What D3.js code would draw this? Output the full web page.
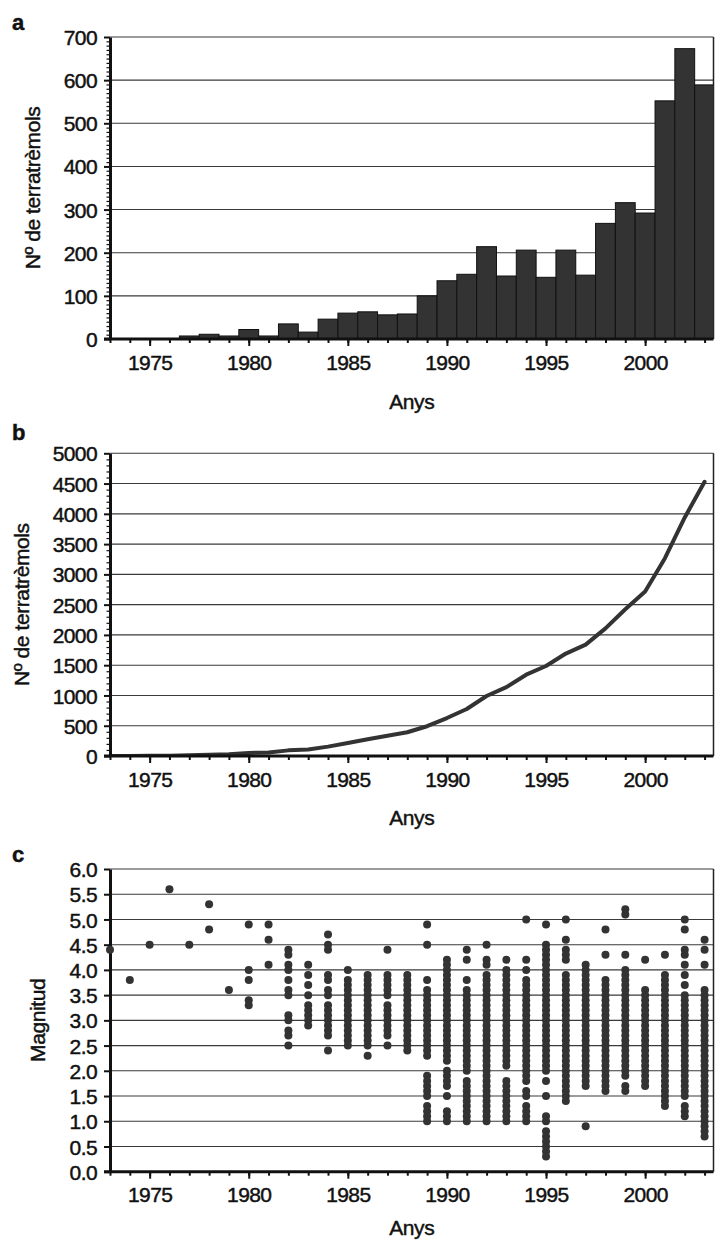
<!DOCTYPE html>
<html>
<head>
<meta charset="utf-8">
<script src="https://cdn.jsdelivr.net/npm/d3@7"></script>
<style>
  body { margin: 0; background: #fff; }
  svg text { font-family: "Liberation Sans", Arial, Helvetica, sans-serif; fill: #111; stroke: #111; stroke-width: 0.45px; }
</style>
</head>
<body>
<svg id="chart" width="715" height="1242"></svg>
<script>
// ---- Data ----------------------------------------------------------------
const years = [1973, 1974, 1975, 1976, 1977, 1978, 1979, 1980, 1981, 1982,
               1983, 1984, 1985, 1986, 1987, 1988, 1989, 1990, 1991, 1992,
               1993, 1994, 1995, 1996, 1997, 1998, 1999, 2000, 2001, 2002, 2003];

// Earthquakes per year
const annualCounts = [1, 1, 1, 1, 7, 11, 7, 22, 7, 35,
                      16, 46, 60, 63, 56, 58, 100, 135, 150, 214,
                      146, 206, 143, 206, 148, 268, 316, 292, 552, 673, 589];

// Accumulated number of earthquakes
const cumulativeCounts = [1, 2, 3, 4, 11, 22, 29, 51, 58, 93,
                          109, 155, 215, 278, 334, 392, 492, 627, 777, 991,
                          1137, 1343, 1486, 1692, 1840, 2108, 2424, 2716, 3268, 3941, 4530];

// Magnitudes recorded each year (one entry per distinct value)
const magnitudes = [
  [4.4],
  [3.8],
  [4.5],
  [5.6],
  [4.5],
  [5.3, 4.8],
  [3.6],
  [4.9, 4.0, 3.8, 3.4, 3.3],
  [4.9, 4.6, 4.1],
  [4.4, 4.3, 4.1, 4.0, 3.8, 3.6, 3.5, 3.1, 3.0, 2.8, 2.7, 2.5],
  [4.1, 3.9, 3.7, 3.5, 3.3, 3.2, 3.1, 3.0, 2.9],
  [4.7, 4.5, 4.4, 3.9, 3.8, 3.6, 3.5, 3.3, 3.2, 3.1, 3.0, 2.9, 2.8, 2.7, 2.4],
  [4.0, 3.8, 3.7, 3.6, 3.5, 3.4, 3.3, 3.2, 3.1, 3.0, 2.9, 2.8, 2.7, 2.6, 2.5],
  [3.9, 3.8, 3.7, 3.6, 3.5, 3.4, 3.3, 3.2, 3.1, 3.0, 2.9, 2.8, 2.7, 2.6, 2.5, 2.3],
  [4.4, 3.9, 3.8, 3.7, 3.6, 3.5, 3.3, 3.2, 3.1, 3.0, 2.9, 2.8, 2.7, 2.5],
  [3.9, 3.8, 3.7, 3.6, 3.5, 3.4, 3.3, 3.2, 3.1, 3.0, 2.9, 2.8, 2.7, 2.6, 2.5, 2.4],
  [4.9, 4.5, 3.8, 3.6, 3.5, 3.4, 3.3, 3.2, 3.1, 3.0, 2.9, 2.8, 2.7, 2.6, 2.5, 2.4, 2.3,
   1.9, 1.8, 1.7, 1.6, 1.5, 1.3, 1.2, 1.1, 1.0],
  [4.2, 4.1, 4.0, 3.9, 3.8, 3.7, 3.6, 3.5, 3.4, 3.3, 3.2, 3.1, 3.0, 2.9, 2.8, 2.7, 2.6,
   2.5, 2.4, 2.3, 2.2, 2.0, 1.9, 1.8, 1.7, 1.5, 1.2, 1.1, 1.0],
  [4.4, 4.2, 3.8, 3.6, 3.5, 3.4, 3.3, 3.2, 3.1, 3.0, 2.9, 2.8, 2.7, 2.6, 2.5, 2.4, 2.3,
   2.2, 2.1, 2.0, 1.8, 1.7, 1.6, 1.5, 1.4, 1.3, 1.2, 1.1, 1.0],
  [4.5, 4.2, 4.1, 3.9, 3.8, 3.7, 3.6, 3.5, 3.4, 3.3, 3.2, 3.1, 3.0, 2.9, 2.8, 2.7, 2.6,
   2.5, 2.4, 2.3, 2.2, 2.1, 2.0, 1.9, 1.8, 1.7, 1.6, 1.5, 1.4, 1.3, 1.2, 1.1, 1.0],
  [4.2, 4.0, 3.9, 3.8, 3.7, 3.6, 3.5, 3.4, 3.3, 3.2, 3.1, 3.0, 2.9, 2.8, 2.7, 2.6, 2.5,
   2.4, 2.3, 2.2, 2.1, 1.8, 1.7, 1.6, 1.5, 1.4, 1.3, 1.2, 1.1, 1.0],
  [5.0, 4.2, 4.0, 3.8, 3.7, 3.6, 3.5, 3.4, 3.3, 3.2, 3.1, 3.0, 2.9, 2.8, 2.7, 2.6, 2.5,
   2.4, 2.3, 2.2, 2.1, 2.0, 1.9, 1.8, 1.6, 1.5, 1.3, 1.2, 1.1, 1.0],
  [4.9, 4.5, 4.4, 4.3, 4.2, 4.1, 4.0, 3.9, 3.8, 3.7, 3.6, 3.5, 3.4, 3.3, 3.2, 3.1, 3.0,
   2.9, 2.8, 2.7, 2.6, 2.5, 2.4, 2.3, 2.2, 2.1, 2.0, 1.8, 1.5, 1.1, 1.0, 0.8, 0.7, 0.6,
   0.5, 0.4, 0.3],
  [5.0, 4.6, 4.4, 4.3, 4.2, 3.9, 3.8, 3.7, 3.6, 3.5, 3.4, 3.3, 3.2, 3.1, 3.0, 2.9, 2.8,
   2.7, 2.6, 2.5, 2.4, 2.3, 2.2, 2.1, 2.0, 1.9, 1.8, 1.7, 1.6, 1.5, 1.4],
  [4.1, 4.0, 3.9, 3.8, 3.7, 3.6, 3.5, 3.4, 3.3, 3.2, 3.1, 3.0, 2.9, 2.8, 2.7, 2.6, 2.5,
   2.4, 2.3, 2.2, 2.1, 2.0, 1.9, 1.8, 1.7, 0.9],
  [4.8, 4.3, 3.8, 3.7, 3.6, 3.5, 3.4, 3.3, 3.2, 3.1, 3.0, 2.9, 2.8, 2.7, 2.6, 2.5, 2.4,
   2.3, 2.2, 2.1, 2.0, 1.9, 1.8, 1.7, 1.6],
  [5.2, 5.1, 4.3, 4.0, 3.9, 3.8, 3.7, 3.6, 3.5, 3.4, 3.3, 3.2, 3.1, 3.0, 2.9, 2.8, 2.7,
   2.6, 2.5, 2.4, 2.3, 2.2, 2.1, 2.0, 1.9, 1.7, 1.6],
  [4.2, 3.6, 3.5, 3.4, 3.3, 3.2, 3.1, 3.0, 2.9, 2.8, 2.7, 2.6, 2.5, 2.4, 2.3, 2.2, 2.1,
   2.0, 1.9, 1.8, 1.7],
  [4.3, 3.9, 3.8, 3.7, 3.6, 3.5, 3.4, 3.3, 3.2, 3.1, 3.0, 2.9, 2.8, 2.7, 2.6, 2.5, 2.4,
   2.3, 2.2, 2.1, 2.0, 1.9, 1.8, 1.7, 1.6, 1.5, 1.4, 1.3],
  [5.0, 4.8, 4.4, 4.3, 4.1, 3.9, 3.7, 3.5, 3.4, 3.3, 3.2, 3.1, 3.0, 2.9, 2.8, 2.7, 2.6,
   2.5, 2.4, 2.3, 2.2, 2.1, 2.0, 1.9, 1.8, 1.7, 1.6, 1.5, 1.3, 1.2, 1.1],
  [4.6, 4.4, 4.1, 3.6, 3.5, 3.4, 3.3, 3.2, 3.1, 3.0, 2.9, 2.8, 2.7, 2.6, 2.5, 2.4, 2.3,
   2.2, 2.1, 2.0, 1.9, 1.8, 1.7, 1.6, 1.5, 1.4, 1.3, 1.2, 1.1, 1.0, 0.9, 0.8, 0.7]
];

// Tick labels
const yearLabels = [1975, 1980, 1985, 1990, 1995, 2000];
const countTicks = [0, 100, 200, 300, 400, 500, 600, 700];
const cumulativeTicks = [0, 500, 1000, 1500, 2000, 2500, 3000, 3500, 4000, 4500, 5000];
const magnitudeTicks = [0.0, 0.5, 1.0, 1.5, 2.0, 2.5, 3.0, 3.5, 4.0, 4.5, 5.0, 5.5, 6.0];

// ---- Layout --------------------------------------------------------------
const svg = d3.select("#chart");
const left = 110, right = 713.5;
const ink = "#333";
const fontSize = 21;

const x = d3.scaleLinear().domain([1973, 2003.45]).range([left, right]);

function panel(opts) {
  const { id, top, bottom, max, ticks, minor, fmt, title, titleX, letter, letterY, xTitleY } = opts;
  const y = d3.scaleLinear().domain([0, max]).range([bottom, top]);
  const g = svg.append("g").attr("class", "panel-" + id);

  g.append("clipPath").attr("id", "clip-" + id)
    .append("rect").attr("x", left).attr("y", top - 2)
    .attr("width", right - left).attr("height", bottom - top + 2);

  // horizontal gridlines
  g.append("g").selectAll("line").data(ticks.filter(t => t > 0)).join("line")
    .attr("x1", left).attr("x2", right)
    .attr("y1", d => y(d)).attr("y2", d => y(d))
    .attr("stroke", "#3a3a3a").attr("stroke-width", 1.1);

  // right frame
  g.append("line").attr("x1", right).attr("x2", right)
    .attr("y1", top).attr("y2", bottom)
    .attr("stroke", "#222").attr("stroke-width", 1.5);

  const marks = g.append("g").attr("clip-path", `url(#clip-${id})`);

  // y axis: minor then major ticks
  if (minor) {
    const ym = g.append("g").attr("transform", `translate(${left},0)`)
      .call(d3.axisLeft(y).tickValues(minor).tickSize(3.5).tickFormat("").tickSizeOuter(0));
    ym.select(".domain").remove();
    ym.selectAll("line").attr("stroke", "#111").attr("stroke-width", 1.2);
  }
  const ya = g.append("g").attr("transform", `translate(${left},0)`)
    .call(d3.axisLeft(y).tickValues(ticks).tickSize(6).tickPadding(7).tickFormat(fmt).tickSizeOuter(0));
  ya.select(".domain").attr("stroke", "#111").attr("stroke-width", 3);
  ya.selectAll("line").attr("stroke", "#111").attr("stroke-width", 2);
  ya.selectAll("text").attr("font-size", fontSize).attr("letter-spacing", "-0.6px")
    .attr("fill", "#111").attr("dy", "0.36em");

  // x axis: one tick per year, longer ticks at labelled years
  const xa = g.append("g").attr("transform", `translate(0,${bottom})`)
    .call(d3.axisBottom(x).tickValues(years).tickSize(4).tickFormat("").tickSizeOuter(0));
  xa.select(".domain").attr("stroke", "#111").attr("stroke-width", 3)
    .attr("d", `M${left - 6},0H${right}`);
  xa.selectAll("line").attr("stroke", "#111").attr("stroke-width", 2);
  const xl = g.append("g").attr("transform", `translate(0,${bottom})`)
    .call(d3.axisBottom(x).tickValues(yearLabels).tickSize(7).tickFormat(d3.format("d")).tickSizeOuter(0));
  xl.select(".domain").remove();
  xl.selectAll("line").attr("stroke", "#111").attr("stroke-width", 2);
  xl.selectAll("text").attr("font-size", fontSize).attr("letter-spacing", "-0.6px")
    .attr("fill", "#111").attr("y", 23).attr("dy", "0.36em");

  // axis titles
  g.append("text").attr("x", (left + right) / 2).attr("y", bottom + xTitleY).attr("dy", "0.36em")
    .attr("text-anchor", "middle").attr("font-size", fontSize).attr("letter-spacing", "-0.4px")
    .text("Anys");
  g.append("text")
    .attr("transform", `translate(${titleX},${(top + bottom) / 2}) rotate(-90)`)
    .attr("dy", "0.36em").attr("text-anchor", "middle")
    .attr("font-size", fontSize).attr("letter-spacing", "-0.4px")
    .text(title);

  // panel letter
  g.append("text").attr("x", 12).attr("y", letterY)
    .attr("font-size", 22).attr("font-weight", "bold").text(letter);

  return { g, y, marks };
}

// ---- a: earthquakes per year ---------------------------------------------
const pa = panel({
  id: "a", top: 37, bottom: 339, max: 700, ticks: countTicks,
  minor: d3.range(0, 701, 10).filter(v => v % 100 !== 0),
  fmt: d3.format("d"), title: "Nº de terratrèmols", titleX: 32, letter: "a", letterY: 30, xTitleY: 62
});
pa.marks.selectAll("rect").data(years.map((yr, i) => ({ yr, v: annualCounts[i] }))).join("rect")
  .attr("x", d => x(d.yr - 0.5))
  .attr("width", d => x(d.yr + 0.5) - x(d.yr - 0.5))
  .attr("y", d => pa.y(d.v))
  .attr("height", d => pa.y(0) - pa.y(d.v))
  .attr("fill", ink).attr("stroke", "#111").attr("stroke-width", 1);

// ---- b: accumulated earthquakes ------------------------------------------
const pb = panel({
  id: "b", top: 453.3, bottom: 756, max: 5000, ticks: cumulativeTicks,
  minor: d3.range(0, 5001, 100).filter(v => v % 500 !== 0),
  fmt: d3.format("d"), title: "Nº de terratrèmols", titleX: 21, letter: "b", letterY: 440, xTitleY: 61
});
pb.marks.append("path")
  .datum(years.map((yr, i) => [yr, cumulativeCounts[i]]))
  .attr("d", d3.line().x(d => x(d[0])).y(d => pb.y(d[1])))
  .attr("fill", "none").attr("stroke", ink).attr("stroke-width", 4)
  .attr("stroke-linejoin", "round").attr("stroke-linecap", "round");

// ---- c: magnitudes --------------------------------------------------------
const pc = panel({
  id: "c", top: 869, bottom: 1171.7, max: 6, ticks: magnitudeTicks, minor: null,
  fmt: d3.format(".1f"), title: "Magnitud", titleX: 37, letter: "c", letterY: 862, xTitleY: 56
});
const quakes = years.flatMap((yr, i) => magnitudes[i].map(m => ({ yr, m })));
pc.g.append("g").selectAll("circle").data(quakes).join("circle")
  .attr("cx", d => x(d.yr)).attr("cy", d => pc.y(d.m))
  .attr("r", 4).attr("fill", ink);
</script>
</body>
</html>
